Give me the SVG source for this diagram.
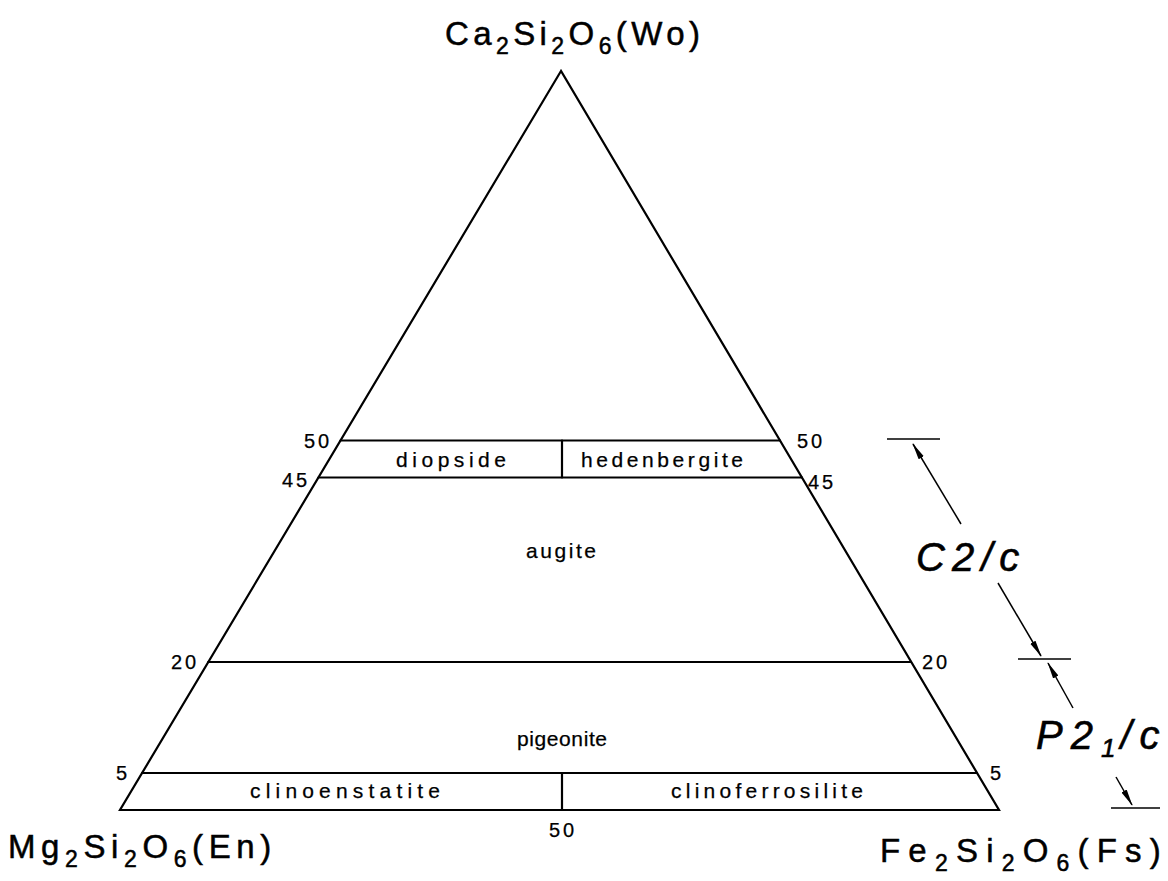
<svg xmlns="http://www.w3.org/2000/svg" width="1168" height="881" viewBox="0 0 1168 881">
<style>
.ln{stroke:#000;stroke-width:2.2;fill:none;stroke-linecap:round;stroke-linejoin:miter}
.tk{stroke:#000;stroke-width:1.6;fill:none}
.ar{stroke:#000;stroke-width:1.5;fill:none}
.t{font-family:"Liberation Sans","DejaVu Sans",sans-serif;fill:#000;stroke:#000;stroke-width:0.25}
.lab{font-size:21px;text-anchor:middle}
.num{font-size:20px;letter-spacing:3px}
.big{font-size:33px;stroke-width:0.5}
.sub{font-size:23px}
.sg{font-size:40px;font-style:italic;stroke-width:0.6}
</style>
<defs>
<marker id="ah" markerWidth="17" markerHeight="8" refX="16" refY="4" orient="auto" markerUnits="userSpaceOnUse">
<path d="M0,1 L17,4 L0,7 Z" fill="#000"/>
</marker>
</defs>
<rect width="1168" height="881" fill="#fff"/>
<g id="triangle">
<path class="ln" d="M561,71 L120,810 L999,810 Z"/>
</g>
<g id="field-lines">
<line class="ln" x1="340.5" y1="440.5" x2="780" y2="440.5"/>
<line class="ln" x1="318.5" y1="477.5" x2="802" y2="477.5"/>
<line class="ln" x1="208.2" y1="662" x2="911" y2="662"/>
<line class="ln" x1="142.1" y1="773" x2="977" y2="773"/>
<line class="ln" x1="562" y1="440.5" x2="562" y2="477.5"/>
<line class="ln" x1="562" y1="773" x2="562" y2="810"/>
</g>
<g id="vertex-labels">
<text class="t big" x="445" y="45" letter-spacing="4.4">Ca<tspan class="sub" dy="9">2</tspan><tspan dy="-9">Si</tspan><tspan class="sub" dy="9">2</tspan><tspan dy="-9">O</tspan><tspan class="sub" dy="9">6</tspan><tspan dy="-9">(Wo)</tspan></text>
<text class="t big" x="8" y="858" letter-spacing="5.6">Mg<tspan class="sub" dy="9">2</tspan><tspan dy="-9">Si</tspan><tspan class="sub" dy="9">2</tspan><tspan dy="-9">O</tspan><tspan class="sub" dy="9">6</tspan><tspan dy="-9">(En)</tspan></text>
<text class="t big" x="880" y="862" letter-spacing="8.2">Fe<tspan class="sub" dy="9">2</tspan><tspan dy="-9">Si</tspan><tspan class="sub" dy="9">2</tspan><tspan dy="-9">O</tspan><tspan class="sub" dy="9">6</tspan><tspan dy="-9">(Fs)</tspan></text>
</g>
<g id="field-labels">
<text class="t lab" x="451" y="467" textLength="110" lengthAdjust="spacing">diopside</text>
<text class="t lab" x="662" y="467" textLength="162" lengthAdjust="spacing">hedenbergite</text>
<text class="t lab" x="561" y="558" textLength="70" lengthAdjust="spacing">augite</text>
<text class="t lab" x="562" y="746" textLength="90" lengthAdjust="spacing">pigeonite</text>
<text class="t lab" x="345" y="798" textLength="190" lengthAdjust="spacing">clinoenstatite</text>
<text class="t lab" x="767" y="798" textLength="192" lengthAdjust="spacing">clinoferrosilite</text>
</g>
<g id="scale-numbers">
<text class="t num" x="304" y="448">50</text>
<text class="t num" x="282" y="487">45</text>
<text class="t num" x="797" y="448">50</text>
<text class="t num" x="808" y="489">45</text>
<text class="t num" x="171" y="669">20</text>
<text class="t num" x="922" y="669">20</text>
<text class="t num" x="116" y="780">5</text>
<text class="t num" x="990" y="780">5</text>
<text class="t num" x="549" y="837">50</text>
</g>
<g id="space-groups">
<text class="t sg" x="916" y="571" letter-spacing="7">C2/c</text>
<text class="t sg" x="1036" y="749" letter-spacing="8">P2<tspan font-size="26" dy="8" letter-spacing="5">1</tspan><tspan dy="-8">/c</tspan></text>
</g>
<g id="connectors">
<line class="tk" x1="887" y1="439" x2="940" y2="439"/>
<line class="tk" x1="1018" y1="659" x2="1071" y2="659"/>
<line class="tk" x1="1111" y1="808" x2="1160" y2="808"/>
<line class="ar" x1="961" y1="524" x2="913" y2="444" marker-end="url(#ah)"/>
<line class="ar" x1="998" y1="583" x2="1041" y2="656" marker-end="url(#ah)"/>
<line class="ar" x1="1073" y1="708" x2="1048" y2="663" marker-end="url(#ah)"/>
<line class="ar" x1="1116" y1="777" x2="1132" y2="805" marker-end="url(#ah)"/>
</g>
</svg>
